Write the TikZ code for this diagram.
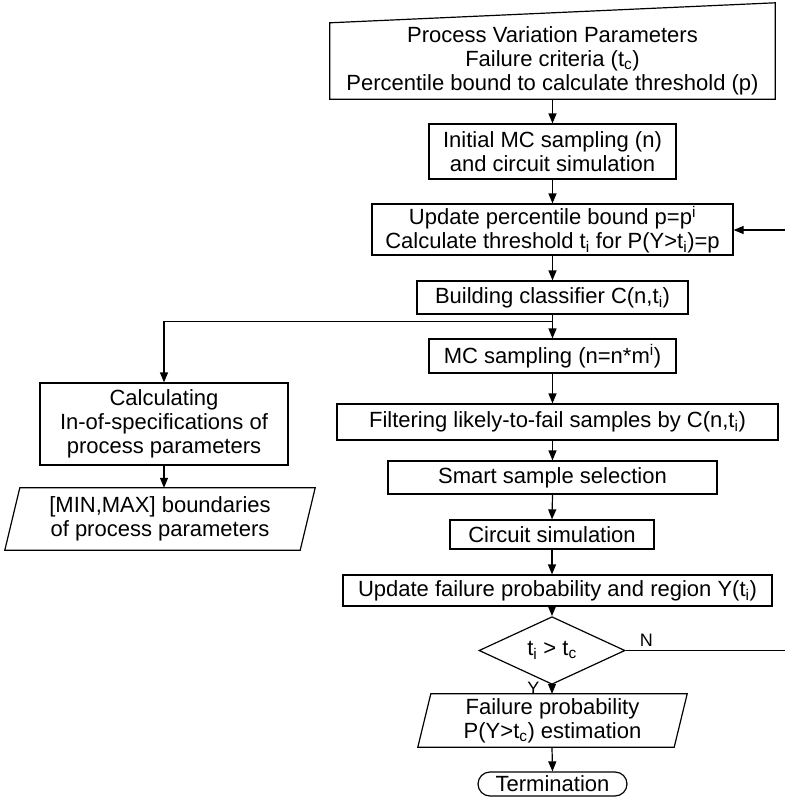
\documentclass[tikz,border=0pt]{standalone}
\usepackage{fontspec}
\setmainfont{Liberation Sans}
\usetikzlibrary{shapes.geometric,arrows.meta,calc}
\begin{document}
\begin{tikzpicture}[x=1pt,y=-1pt,
  every node/.style={font=\fontsize{22}{24}\selectfont, inner sep=0pt},
  box/.style={draw, line width=1.2pt, rectangle, align=center},
  plain/.style={rectangle, align=center},
  lbl/.style={font=\fontsize{18}{18}\selectfont},
  arr/.style={line width=1.2pt, -{Triangle[length=10pt,width=8pt]}},
  ln/.style={line width=1.2pt}]
\useasboundingbox (0,0) rectangle (785,806);

% top manual input
\node[plain, minimum width=445, minimum height=76] (top) at (552.5,61)
  {Process Variation Parameters\\Failure criteria (t\textsubscript{c})\\Percentile bound to calculate threshold (p)};
\draw[ln] (top.south west) -- (top.south east) -- ($(top.north east)+(0,-20)$) -- (top.north west) -- cycle;

\node[box, minimum width=247, minimum height=55] (init) at (552.5,151.5)
  {Initial MC sampling (n)\\and circuit simulation};
\node[box, minimum width=361, minimum height=51] (upd) at (552.5,229.5)
  {Update percentile bound p=p\textsuperscript{i}\\Calculate threshold t\textsubscript{i} for P(Y>t\textsubscript{i})=p};
\node[box, minimum width=271, minimum height=33] (build) at (552.5,297.5)
  {Building classifier C(n,t\textsubscript{i})};
\node[box, minimum width=247, minimum height=34] (mcs) at (552.5,356)
  {MC sampling (n=n*m\textsuperscript{i})};
\node[box, minimum width=441, minimum height=36] (filt) at (557.5,422)
  {Filtering likely-to-fail samples by C(n,t\textsubscript{i})};
\node[box, minimum width=329, minimum height=33] (smart) at (552.5,477.5)
  {Smart sample selection};
\node[box, minimum width=204, minimum height=29] (circ) at (552,534.5)
  {Circuit simulation};
\node[box, minimum width=429, minimum height=31] (updf) at (557.5,590.5)
  {Update failure probability and region Y(t\textsubscript{i})};
\node[draw, line width=1.2pt, diamond, minimum width=146, minimum height=37] (dec) at (552,650.5)
  {t\textsubscript{i} > t\textsubscript{c}};

\node[plain, minimum width=269, minimum height=53] (fp) at (552.5,720.5)
  {Failure probability\\P(Y>t\textsubscript{c}) estimation};
\draw[ln] (fp.south west) -- ($(fp.south east)+(-13,0)$) -- (fp.north east) -- ($(fp.north west)+(13,0)$) -- cycle;

\node[draw, line width=1.2pt, rectangle, rounded corners=12pt, minimum width=149, minimum height=24] (term) at (552.5,784)
  {Termination};

% left branch
\node[box, minimum width=248, minimum height=82] (calc) at (164,424)
  {Calculating\\In-of-specifications of\\process parameters};
\node[plain, minimum width=310, minimum height=62] (mm) at (160,519)
  {[MIN,MAX] boundaries\\of process parameters};
\draw[ln] (mm.south west) -- ($(mm.south east)+(-15,0)$) -- (mm.north east) -- ($(mm.north west)+(15,0)$) -- cycle;

% connectors
\draw[arr] (top.south -| init.north) -- (init.north);
\draw[arr] (init.south) -- (upd.north);
\draw[arr] (upd.south) -- (build.north);
\draw[arr] (build.south) -- (mcs.north);
\draw[arr] (mcs.south) -- (mcs.south |- filt.north);
\draw[arr] (mcs.south |- filt.south) -- (smart.north);
\draw[arr] (smart.south) -- (circ.north);
\draw[arr] (circ.south) -- (circ.south |- updf.north);
\draw[arr] (circ.south |- updf.south) -- (dec.north);
\draw[arr] (dec.south) -- (dec.south |- fp.north) node[pos=0.4, anchor=east, xshift=-12pt, lbl] {Y};
\draw[arr] (dec.south |- fp.south) -- (term.north);
\draw[arr] ($(build.south)!0.3!(mcs.north)$) -| (calc.north);
\draw[arr] (calc.south) -- (calc.south |- mm.north);

% loop back (continues beyond the picture's right edge)
\coordinate (nend) at (785,650.5);
\coordinate (lbstart) at (785,230);
\draw[ln] (dec.east) -- (nend) node[pos=0.13, above=3pt, lbl] {N};
\draw[arr] (lbstart) -- (lbstart -| upd.east);
\end{tikzpicture}
\end{document}
